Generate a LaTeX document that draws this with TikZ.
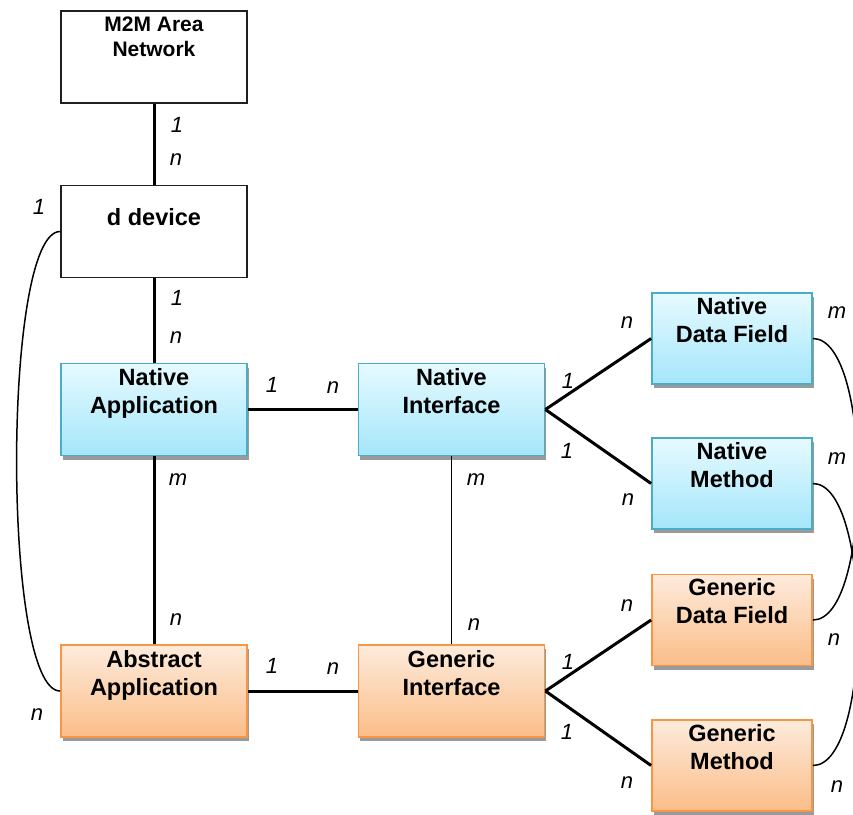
\documentclass[tikz,border=0pt]{standalone}
\usepackage{fontspec}
\setmainfont{Liberation Sans}
\usetikzlibrary{shadows}
\definecolor{bluetop}{HTML}{E6FAFF}
\definecolor{bluebot}{HTML}{A4E6FA}
\definecolor{blueedge}{HTML}{4BACC6}
\definecolor{orangetop}{HTML}{FDEBDC}
\definecolor{orangebot}{HTML}{FBBD88}
\definecolor{orangeedge}{HTML}{F79646}
\definecolor{shadowgray}{HTML}{9A9A9A}
\definecolor{plainedge}{HTML}{202020}
\begin{document}
\begin{tikzpicture}[x=1pt,y=-1pt,
  base/.style={inner sep=0pt, line width=1.8pt},
  wide/.style={minimum width=186pt, minimum height=92pt},
  narrow/.style={minimum width=160pt, minimum height=91pt},
  wbox/.style={base, draw=plainedge, fill=white},
  bbox/.style={base, draw=blueedge, top color=bluetop, bottom color=bluebot,
    drop shadow={shadow xshift=1.5pt, shadow yshift=-4pt, fill=shadowgray, opacity=1}},
  obox/.style={base, draw=orangeedge, top color=orangetop, bottom color=orangebot,
    drop shadow={shadow xshift=1.5pt, shadow yshift=-4pt, fill=shadowgray, opacity=1}},
  txt/.style={font=\fontsize{23.5}{28}\selectfont\bfseries, align=center, inner sep=0pt, anchor=north},
  smalltxt/.style={font=\fontsize{21}{25}\selectfont\bfseries, align=center, inner sep=0pt, anchor=north},
  lab/.style={font=\fontsize{22}{24}\selectfont\itshape, inner sep=0pt},
  thk/.style={line width=3pt},
  thn/.style={line width=1.9pt},
  crv/.style={line width=1.5pt}]
\useasboundingbox (0,0) rectangle (853,814);
\clip (0,0) rectangle (853,814);

% boxes
\node[wbox, wide] (m2m) at (154,57) {};
\node[wbox, wide] (dd) at (154,231.5) {};
\node[bbox, wide] (na) at (154,409.5) {};
\node[bbox, wide] (ni) at (451.5,409.5) {};
\node[obox, wide] (aa) at (154,691) {};
\node[obox, wide] (gi) at (451.5,691) {};
\node[bbox, narrow] (ndf) at (732,338.5) {};
\node[bbox, narrow] (nm) at (732,483.5) {};
\node[obox, narrow] (gdf) at (732,620) {};
\node[obox, narrow] (gm) at (732,765.5) {};

% texts
\node[smalltxt] (t1) at ([yshift=-7pt]m2m.north) {M2M Area\\Network};
\node[txt] (t2) at ([yshift=-24pt]dd.north) {d device};
\node[txt] (t3) at ([yshift=-6pt]na.north) {Native\\Application};
\node[txt] (t4) at ([yshift=-6pt]ni.north) {Native\\Interface};
\node[txt] (t5) at ([yshift=-6pt]aa.north) {Abstract\\Application};
\node[txt] (t6) at ([yshift=-6pt]gi.north) {Generic\\Interface};
\node[txt] (t7) at ([yshift=-5pt]ndf.north) {Native\\Data Field};
\node[txt] (t8) at ([yshift=-5pt]nm.north) {Native\\Method};
\node[txt] (t9) at ([yshift=-5pt]gdf.north) {Generic\\Data Field};
\node[txt] (t10) at ([yshift=-5pt]gm.north) {Generic\\Method};

% connectors
\draw[thk] (m2m.south) -- (dd.north);
\draw[thk] (dd.south) -- (na.north);
\draw[thk] (na.east) -- (ni.west);
\draw[thk] (na.south) -- (aa.north);
\draw[thn] (ni.south) -- (gi.north);
\draw[thk] (aa.east) -- (gi.west);
\draw[thk] (ni.east) -- (ndf.west);
\draw[thk] (ni.east) -- (nm.west);
\draw[thk] (gi.east) -- (gdf.west);
\draw[thk] (gi.east) -- (gm.west);
\draw[crv] (dd.west) .. controls +(-58,0) and +(-58,0) .. (aa.west);
\draw[crv] (ndf.east) .. controls +(60,0) and +(60,0) .. (gdf.east);
\draw[crv] (nm.east) .. controls +(60,0) and +(60,0) .. (gm.east);

% labels
\node[lab] (l1) at (177,125) {1};
\node[lab] (l2) at (176,160) {n};
\node[lab] (l3) at (177,298) {1};
\node[lab] (l4) at (176,338) {n};
\node[lab] (l5) at (39,207) {1};
\node[lab] (l6) at (37,715) {n};
\node[lab] (l7) at (272,385) {1};
\node[lab] (l8) at (333,388) {n};
\node[lab] (l9) at (178,480) {m};
\node[lab] (l10) at (176,620) {n};
\node[lab] (l11) at (476,480) {m};
\node[lab] (l12) at (474,625) {n};
\node[lab] (l13) at (272,666) {1};
\node[lab] (l14) at (333,669) {n};
\node[lab] (l15) at (568,381) {1};
\node[lab] (l16) at (567,451) {1};
\node[lab] (l17) at (627,323) {n};
\node[lab] (l18) at (628,500) {n};
\node[lab] (l19) at (568,662) {1};
\node[lab] (l20) at (567,732) {1};
\node[lab] (l21) at (627,606) {n};
\node[lab] (l22) at (627,783) {n};
\node[lab] (l23) at (837,313) {m};
\node[lab] (l24) at (837,459) {m};
\node[lab] (l25) at (834,640) {n};
\node[lab] (l26) at (837,787) {n};
\end{tikzpicture}
\end{document}
